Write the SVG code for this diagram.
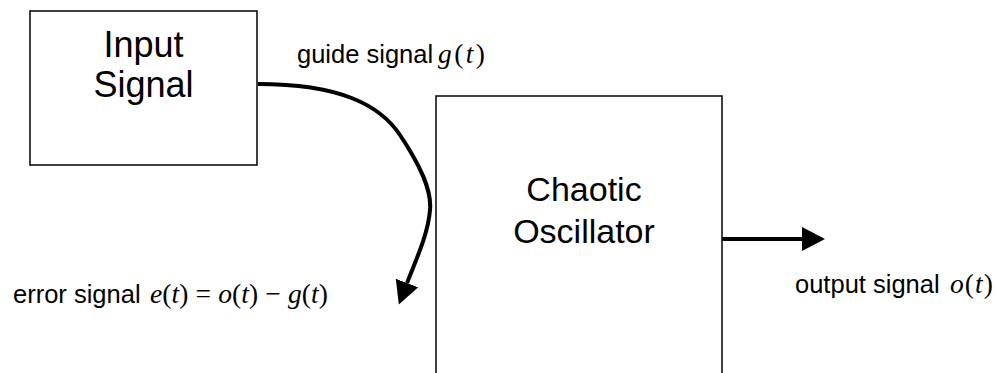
<svg xmlns="http://www.w3.org/2000/svg" width="997" height="373" viewBox="0 0 997 373">
<defs>
<style>
.box{fill:#fff;stroke:#000;stroke-width:1.5}
.big{font-family:"Liberation Sans",Arial,sans-serif;fill:#000;text-anchor:middle}
.lbl{font-family:"Liberation Sans",Arial,sans-serif;fill:#000;font-size:25.5px}
.math{font-family:"Liberation Serif","Times New Roman",serif;fill:#000;font-size:27.5px}
.it{font-style:italic}
.conn{fill:none;stroke:#000;stroke-width:4}
</style>
<marker id="arr" markerUnits="userSpaceOnUse" markerWidth="24" markerHeight="25" refX="0" refY="12" orient="auto">
<path d="M0,0 L23,12 L0,24 Z" fill="#000"/>
</marker>
</defs>
<rect width="997" height="373" fill="#fff"/>
<g id="input-signal">
<rect class="box" x="30" y="11" width="227" height="154"/>
<text class="big" x="143.5" y="57" font-size="36">Input</text>
<text class="big" x="143.5" y="97" font-size="36">Signal</text>
</g>
<g id="chaotic-oscillator">
<rect class="box" x="436" y="96" width="286" height="300"/>
<text class="big" x="584" y="201" font-size="34">Chaotic</text>
<text class="big" x="584" y="243" font-size="34">Oscillator</text>
</g>
<g id="connectors">
<path class="conn" d="M258,84 C340,84 380,105 400,135 C420,165 432,190 430,210 C428,235 415,262 407,283" marker-end="url(#arr)"/>
<path class="conn" d="M722,239 L802,239" marker-end="url(#arr)"/>
</g>
<g id="labels">
<text class="lbl" x="297" y="63">guide signal</text>
<text class="math" x="438" y="63" textLength="47" lengthAdjust="spacing"><tspan class="it">g</tspan>(<tspan class="it">t</tspan>)</text>
<text class="lbl" x="13" y="303">error signal</text>
<text class="math" x="150" y="303" textLength="178" lengthAdjust="spacing"><tspan class="it">e</tspan>(<tspan class="it">t</tspan>) = <tspan class="it">o</tspan>(<tspan class="it">t</tspan>) − <tspan class="it">g</tspan>(<tspan class="it">t</tspan>)</text>
<text class="lbl" x="795" y="293">output signal</text>
<text class="math" x="950" y="293" textLength="43" lengthAdjust="spacing"><tspan class="it">o</tspan>(<tspan class="it">t</tspan>)</text>
</g>
</svg>
